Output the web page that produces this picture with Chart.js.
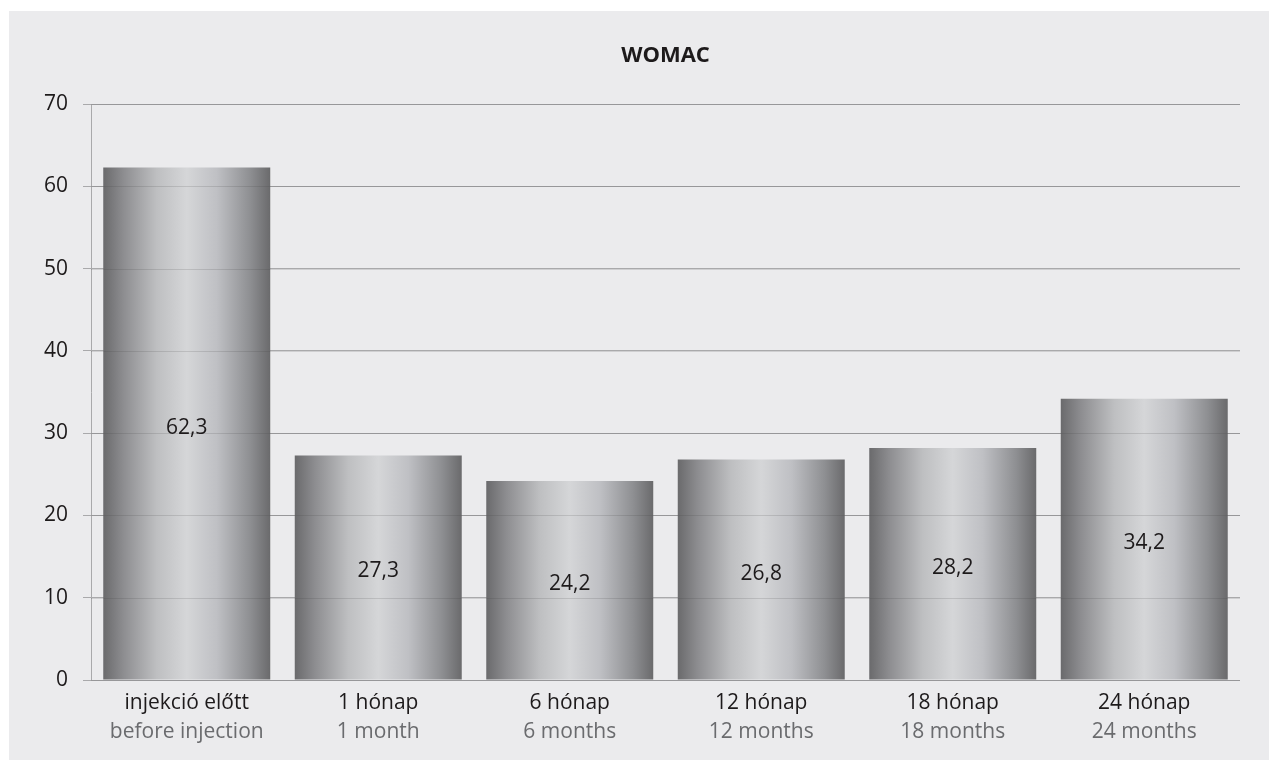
<!DOCTYPE html>
<html>
<head>
<meta charset="utf-8">
<script src="https://cdn.jsdelivr.net/npm/chart.js@4"></script>
<style>
  html, body { margin: 0; padding: 0; background: #ffffff; }
  #panel { position: absolute; left: 9px; top: 11px; width: 1260px; height: 749px; background: #ebebed; }
  canvas { display: block; }
</style>
</head>
<body>
<div id="panel"><canvas id="chart" width="1260" height="749"></canvas></div>
<script>
// WOMAC scores over follow-up time
const categoriesHu = ['injekció előtt', '1 hónap', '6 hónap', '12 hónap', '18 hónap', '24 hónap'];
const categoriesEn = ['before injection', '1 month', '6 months', '12 months', '18 months', '24 months'];
const womacValues = [62.3, 27.3, 24.2, 26.8, 28.2, 34.2];
const yTicks = [0, 10, 20, 30, 40, 50, 60, 70];

const FONT = '"Open Sans", "Noto Sans", sans-serif';
const TEXT_DARK = '#1d1a1b';
const TEXT_GREY = '#6a6b6e';
const GRID = '#a9a9ab';

// cylinder-style horizontal shading for each bar
function barGradient(ctx, left, right) {
  const g = ctx.createLinearGradient(left, 0, right, 0);
  g.addColorStop(0.00, '#6a6a6c');
  g.addColorStop(0.12, '#8d8d90');
  g.addColorStop(0.32, '#bebfc1');
  g.addColorStop(0.50, '#d5d6d8');
  g.addColorStop(0.68, '#bfc0c4');
  g.addColorStop(0.88, '#8e8f92');
  g.addColorStop(1.00, '#6a6a6c');
  return g;
}

const shadingPlugin = {
  id: 'shading',
  beforeDatasetsDraw(chart) {
    const meta = chart.getDatasetMeta(0);
    meta.data.forEach(el => {
      const half = el.width / 2;
      el.options.backgroundColor = barGradient(chart.ctx, el.x - half, el.x + half);
    });
  }
};

// faint grid lines showing through the bars
const gridOverlayPlugin = {
  id: 'gridOverlay',
  afterDatasetsDraw(chart) {
    const { ctx, chartArea, scales } = chart;
    ctx.save();
    ctx.strokeStyle = 'rgba(60,60,64,0.16)';
    ctx.lineWidth = 1;
    yTicks.forEach(v => {
      const y = Math.round(scales.y.getPixelForValue(v)) + 0.5;
      ctx.beginPath();
      ctx.moveTo(chartArea.left, y);
      ctx.lineTo(chartArea.right, y);
      ctx.stroke();
    });
    ctx.restore();
  }
};

// value printed in the middle of each bar
const valueLabelPlugin = {
  id: 'valueLabels',
  afterDatasetsDraw(chart) {
    const { ctx } = chart;
    const meta = chart.getDatasetMeta(0);
    ctx.save();
    ctx.font = '21px ' + FONT;
    ctx.fillStyle = TEXT_DARK;
    ctx.textAlign = 'center';
    ctx.textBaseline = 'middle';
    meta.data.forEach((el, i) => {
      const text = womacValues[i].toFixed(1).replace('.', ',');
      ctx.fillText(text, el.x, (el.y + el.base) / 2 + 4);
    });
    ctx.restore();
  }
};

new Chart(document.getElementById('chart'), {
  type: 'bar',
  data: {
    labels: categoriesHu,
    datasets: [{
      label: 'WOMAC',
      data: womacValues,
      backgroundColor: () => '#a0a0a2',
      borderWidth: 0,
      categoryPercentage: 0.872,
      barPercentage: 1.0
    }]
  },
  options: {
    responsive: false,
    animation: false,
    devicePixelRatio: 1,
    layout: { padding: { left: 0, right: 29, top: 0, bottom: 0 } },
    plugins: {
      legend: { display: false },
      tooltip: { enabled: false },
      title: {
        display: true,
        text: 'WOMAC',
        fullSize: false,
        color: TEXT_DARK,
        font: { family: FONT, size: 22, weight: 'bold', lineHeight: 1.2 },
        padding: { top: 31.8, bottom: 35.0 }
      }
    },
    scales: {
      x: {
        type: 'category',
        position: 'bottom',
        weight: 0,
        grid: { display: false, drawTicks: false },
        border: { display: false },
        ticks: { color: TEXT_DARK, font: { family: FONT, size: 21 }, padding: 10, maxRotation: 0, autoSkip: false },
        afterFit(scale) { scale.height = 34; }
      },
      x2: {
        type: 'category',
        position: 'bottom',
        weight: 1,
        labels: categoriesEn,
        grid: { display: false, drawTicks: false },
        border: { display: false },
        ticks: { color: TEXT_GREY, font: { family: FONT, size: 21 }, padding: 5, maxRotation: 0, autoSkip: false },
        afterFit(scale) { scale.height = 46; }
      },
      y: {
        min: 0,
        max: 70,
        afterBuildTicks(scale) { scale.ticks = yTicks.map(v => ({ value: v })); },
        grid: { color: GRID, lineWidth: 1, tickLength: 8, drawTicks: true },
        border: { display: true, color: GRID, width: 1 },
        ticks: { color: TEXT_DARK, font: { family: FONT, size: 21 }, padding: 15 },
        afterFit(scale) { scale.width = 82; }
      }
    }
  },
  plugins: [shadingPlugin, gridOverlayPlugin, valueLabelPlugin]
});
</script>
</body>
</html>
